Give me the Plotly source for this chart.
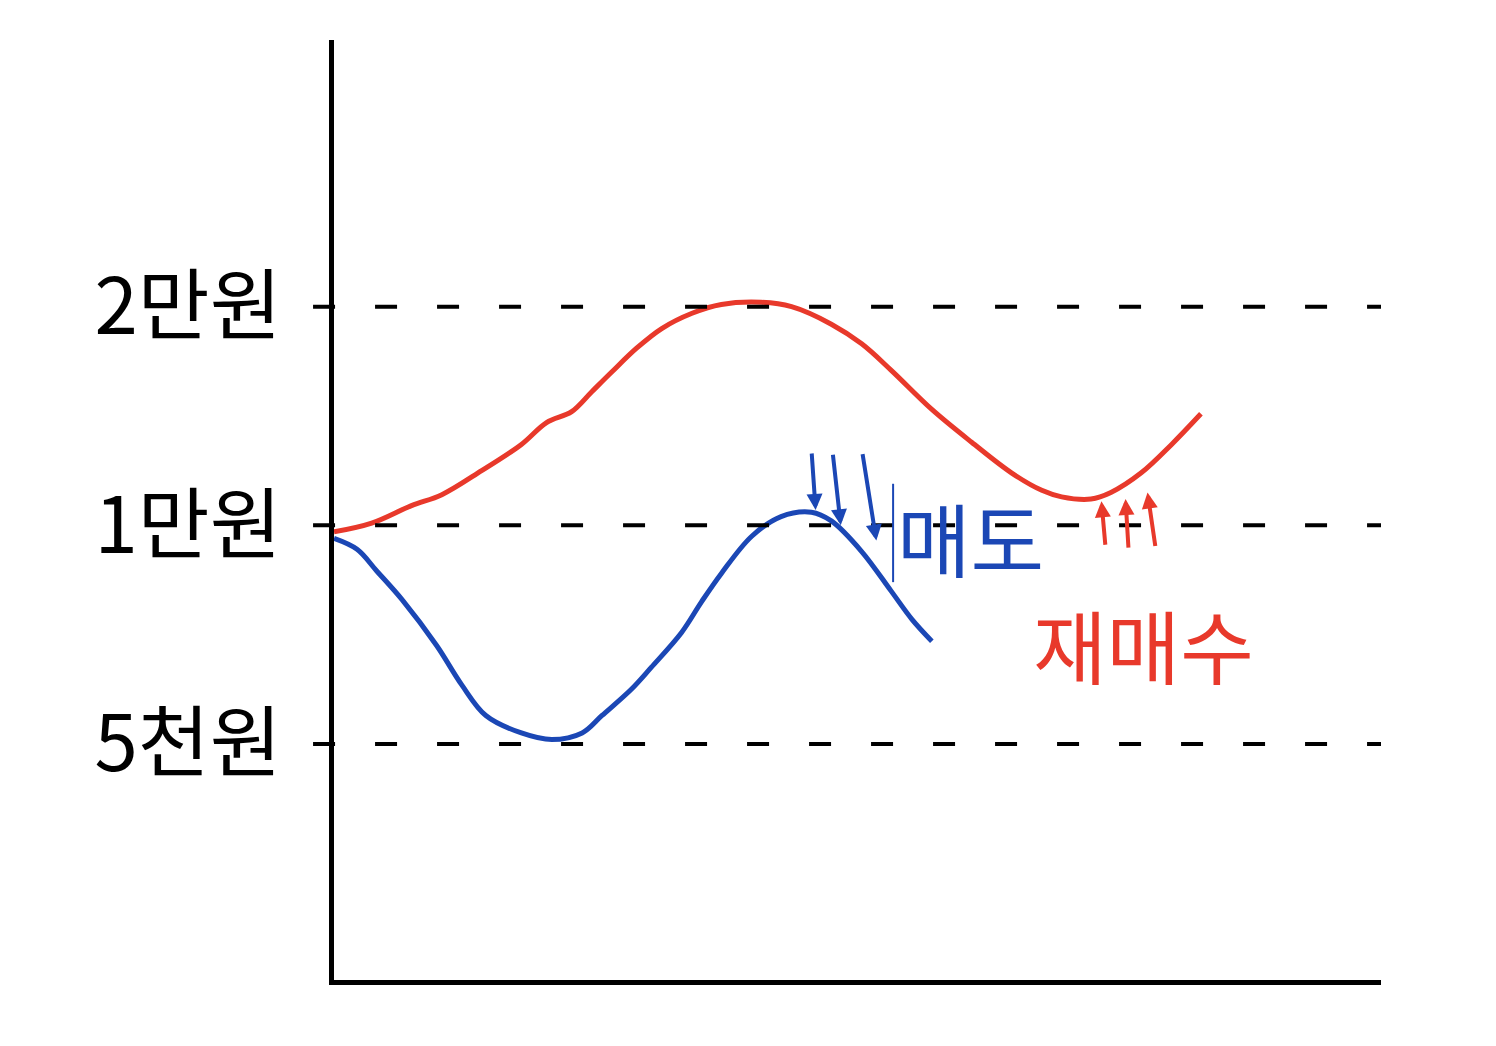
import plotly.graph_objects as go

# price levels (ordinal positions on the y axis)
tick_vals = [1, 2, 3]
tick_text = ["5천원", "1만원", "2만원"]

# red path (re-buy) : x in 0..100 time units, y in level units
red_x = [0, 3.6, 7.4, 10.3, 14.1, 17.9, 20.3, 22.7, 24.6, 26.5, 28.9, 31.3, 34.2, 37.0, 40.8, 43.7, 47.5, 50.4, 53.2, 57.1, 60.9, 64.7, 67.6, 69.5, 72.3, 74.2, 77.1, 80.0, 82.8]
red_y = [1.97, 2.01, 2.09, 2.14, 2.25, 2.37, 2.47, 2.52, 2.61, 2.70, 2.81, 2.90, 2.97, 3.01, 3.02, 3.00, 2.92, 2.83, 2.71, 2.53, 2.38, 2.24, 2.16, 2.13, 2.12, 2.15, 2.24, 2.37, 2.51]
# blue path (sell)
blue_x = [0, 2.2, 4.1, 6.5, 9.8, 12.2, 14.5, 17.9, 20.8, 23.7, 25.6, 28.4, 30.3, 33.2, 35.1, 37.0, 39.9, 42.7, 45.6, 47.5, 50.4, 53.2, 55.2, 57.1]
blue_y = [1.94, 1.89, 1.79, 1.66, 1.45, 1.27, 1.13, 1.05, 1.02, 1.05, 1.13, 1.25, 1.35, 1.51, 1.65, 1.78, 1.95, 2.04, 2.06, 2.02, 1.88, 1.70, 1.57, 1.47]

# arrows: (head_x, head_y, tail_dx_px, tail_dy_px)
blue_arrows = [(46.0, 2.07, -4, -58), (48.4, 2.00, -8, -72), (51.8, 1.93, -14, -88)]
red_arrows = [(73.3, 2.11, 4, 45), (75.6, 2.12, 3, 50), (77.7, 2.15, 8, 55)]

BLUE = "#1b47b5"
RED = "#e8392b"

fig = go.Figure()
fig.add_trace(go.Scatter(x=red_x, y=red_y, mode="lines", line=dict(color=RED, width=5, shape="spline"), showlegend=False))
fig.add_trace(go.Scatter(x=blue_x, y=blue_y, mode="lines", line=dict(color=BLUE, width=5, shape="spline"), showlegend=False))

for v in tick_vals:
    fig.add_shape(type="line", xref="paper", x0=-0.02, x1=1.0, yref="y", y0=v, y1=v,
                  line=dict(color="black", width=4, dash="22px,40px"))

for hx, hy, dx, dy in blue_arrows:
    fig.add_annotation(x=hx, y=hy, ax=dx, ay=dy, showarrow=True, arrowhead=2, arrowwidth=4,
                       arrowsize=0.8, arrowcolor=BLUE, text="")
for hx, hy, dx, dy in red_arrows:
    fig.add_annotation(x=hx, y=hy, ax=dx, ay=dy, showarrow=True, arrowhead=2, arrowwidth=4,
                       arrowsize=0.8, arrowcolor=RED, text="")

fig.add_shape(type="line", x0=53.4, x1=53.4, y0=1.74, y1=2.19, line=dict(color=BLUE, width=2))
fig.add_annotation(x=53.6, y=1.95, text="매도", showarrow=False, xanchor="left",
                   font=dict(color=BLUE, size=80, family="Noto Sans CJK KR"))
fig.add_annotation(x=77.3, y=1.46, text="재매수", showarrow=False,
                   font=dict(color=RED, size=80, family="Noto Sans CJK KR"))

fig.update_layout(
    width=1496, height=1046, plot_bgcolor="white", paper_bgcolor="white",
    margin=dict(l=326, r=123, t=32, b=74),
    xaxis=dict(range=[0, 100], showgrid=False, zeroline=False, showticklabels=False, ticks="",
               showline=True, linecolor="black", linewidth=5),
    yaxis=dict(range=[-0.08, 4.22], showgrid=False, zeroline=False, tickvals=tick_vals, ticktext=tick_text,
               ticks="", ticklabelstandoff=32, showline=True, linecolor="black", linewidth=5,
               tickfont=dict(size=78, color="black", family="Noto Sans CJK KR")),
)
fig.write_html("out.html")
